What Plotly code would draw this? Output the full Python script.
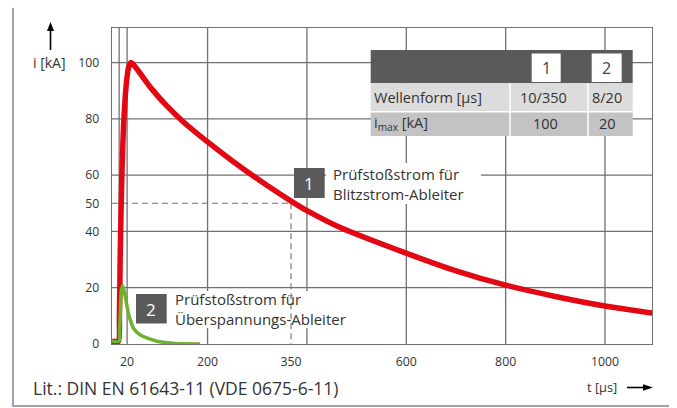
import plotly.graph_objects as go

# ---------------- data ----------------
# time axis units as drawn (schematic, approx µs)
red_t = [7.6, 20.5, 22.5, 24.0, 25.7, 27.8, 31.0, 36.4, 41.0, 45.9, 85, 118, 152, 200,
         252, 320, 368, 401, 467, 601, 700, 800, 900, 1000, 1095]
red_i = [1.0, 1.0, 10, 30, 46, 62, 78, 92.4, 98.3, 100, 91.2, 84.6, 78.8, 71.8,
         64.8, 56.3, 50.8, 47.3, 41.4, 32.2, 26.0, 20.9, 16.9, 13.5, 11]

green_t = [7.6, 21.5, 23.0, 24.3, 26.4, 29.0, 34.4, 41.0, 44.5, 51.1, 64.6, 84.7, 98.2, 115, 135, 185]
green_i = [1.0, 1.0, 5, 11, 19, 20.8, 16.8, 10.5, 8.5, 5.5, 3.2, 1.7, 1.0, 0.5, 0.15, 0.0]

x_tick_pos = [38, 200, 368, 600, 800, 1000]
x_tick_text = ["20", "200", "350", "600", "800", "1000"]
x_grid = [22, 38, 200, 400, 600, 800, 1000]
y_tick_vals = [0, 20, 40, 50, 60, 80, 100]
y_grid = [20, 40, 60, 80, 100]
half_value_t = 368   # position of the "350" mark
half_value_i = 50

table_head = ["1", "2"]
table_rows = ["Wellenform [µs]", "i<sub>max</sub> [kA]"]
table_col1 = ["10/350", "100"]
table_col2 = ["8/20", "20"]

label1_lines = ["Prüfstoßstrom für", "Blitzstrom-Ableiter"]
label2_lines = ["Prüfstoßstrom für", "Überspannungs-Ableiter"]
footer = "Lit.: DIN EN 61643-11 (VDE 0675-6-11)"

# ---------------- layout helpers ----------------
OFF = 8                      # page body margin
W, H = 677 - OFF, 408 - OFF
L, T = 112 - OFF, 28 - OFF
R = W - (652 - OFF)
B = H - (344 - OFF)
PW, PH = W - L - R, H - T - B
def PX(px): return (px - OFF - L) / PW
def PY(py): return (H - B - (py - OFF)) / PH

FONT = "Open Sans"
TXT = "#333333"
GRID = "#707070"
RED = "#e30613"
GREEN = "#6cb22e"
DARK = "#5a5a5a"

fig = go.Figure()
fig.add_trace(go.Scatter(x=red_t, y=red_i, mode="lines",
                         line=dict(color=RED, width=5.5, shape="spline", smoothing=0.6),
                         hoverinfo="skip"))
fig.add_trace(go.Scatter(x=green_t, y=green_i, mode="lines",
                         line=dict(color=GREEN, width=3.5, shape="spline", smoothing=0.6),
                         hoverinfo="skip"))

shapes = []
for yv in y_grid:
    shapes.append(dict(type="line", xref="paper", yref="y", x0=0, x1=1, y0=yv, y1=yv,
                       line=dict(color=GRID, width=1.3), layer="below"))
for xv in x_grid:
    shapes.append(dict(type="line", xref="x", yref="paper", x0=xv, x1=xv, y0=0, y1=1,
                       line=dict(color=GRID, width=1.3), layer="below"))
# dashed helper lines at 50 kA / 350 µs
shapes.append(dict(type="line", xref="paper", yref="y", x0=0, x1=PX(291), y0=half_value_i, y1=half_value_i,
                   line=dict(color=GRID, width=1.1, dash="6px,4px"), layer="below"))
shapes.append(dict(type="line", xref="x", yref="y", x0=half_value_t, x1=half_value_t, y0=half_value_i, y1=0,
                   line=dict(color=GRID, width=1.1, dash="6px,4px"), layer="below"))

def rect(x0, y0, x1, y1, fill, layer="below"):
    shapes.append(dict(type="rect", xref="paper", yref="paper", x0=PX(x0), x1=PX(x1), y0=PY(y1), y1=PY(y0),
                       fillcolor=fill, line=dict(width=0), layer=layer))

# white backgrounds behind the label texts
rect(326, 163, 481, 204, "white")
rect(169, 291, 356, 328, "white")
# label boxes
rect(294, 168, 324.7, 198, DARK)
rect(136, 294, 166.7, 323.5, DARK)
# table
rect(370.7, 50, 632.7, 83.3, DARK)
rect(531.7, 53.5, 560.7, 82, "white")
rect(591.7, 53.5, 621.7, 82, "white")
rect(370.7, 83.3, 632.7, 111.7, "#dcdcdc")
rect(370.7, 111.7, 632.7, 136, "#c3c3c3")
for sx in [510, 588]:
    shapes.append(dict(type="line", xref="paper", yref="paper", x0=PX(sx), x1=PX(sx), y0=PY(83.3), y1=PY(136),
                       line=dict(color="white", width=1.5), layer="below"))
shapes.append(dict(type="line", xref="paper", yref="paper", x0=PX(370.7), x1=PX(632.7), y0=PY(111.7), y1=PY(111.7),
                   line=dict(color="white", width=1.5), layer="below"))
# outer frame
shapes.append(dict(type="rect", xref="paper", yref="paper", x0=PX(13), x1=PX(671.5), y0=PY(406), y1=PY(5),
                   line=dict(color="#9aa5b1", width=2), fillcolor="rgba(0,0,0,0)", layer="below"))
# arrows (axis direction markers)
shapes.append(dict(type="line", xref="paper", yref="paper", x0=PX(50.5), x1=PX(50.5), y0=PY(50), y1=PY(29),
                   line=dict(color="black", width=1.6)))
shapes.append(dict(type="path", xref="paper", yref="paper",
                   path=f"M {PX(50.5)},{PY(22)} L {PX(47)},{PY(31)} L {PX(54)},{PY(31)} Z",
                   fillcolor="black", line=dict(width=0)))
shapes.append(dict(type="line", xref="paper", yref="paper", x0=PX(627), x1=PX(645), y0=PY(387.5), y1=PY(387.5),
                   line=dict(color="black", width=1.6)))
shapes.append(dict(type="path", xref="paper", yref="paper",
                   path=f"M {PX(653)},{PY(387.5)} L {PX(643)},{PY(384.3)} L {PX(643)},{PY(390.7)} Z",
                   fillcolor="black", line=dict(width=0)))

ann = []
def text(px, py, s, size=14, color=TXT, xanchor="left", yanchor="middle", align="left"):
    ann.append(dict(xref="paper", yref="paper", x=PX(px), y=PY(py), text=s, showarrow=False,
                    xanchor=xanchor, yanchor=yanchor, align=align,
                    font=dict(family=FONT, size=size, color=color)))

# table texts
text(546.2, 68, table_head[0], 16, "#444444", "center")
text(606.7, 68, table_head[1], 16, "#444444", "center")
text(372, 97.5, table_rows[0], 14.5)
text(372, 124, table_rows[1], 14.5)
text(543.5, 97.5, table_col1[0], 14.5, xanchor="center")
text(545, 124, table_col1[1], 14.5, xanchor="center")
text(606.5, 97.5, table_col2[0], 14.5, xanchor="center")
text(607, 124, table_col2[1], 14.5, xanchor="center")
# labels
text(309.3, 183.5, "1", 17, "white", "center")
text(151.3, 309, "2", 17, "white", "center")
text(330.5, 184, "<br>".join(label1_lines), 15)
text(173, 309, "<br>".join(label2_lines), 15)
# axis titles and footer
text(49.5, 62, "i [kA]", 14, xanchor="center")
text(619, 387, "t [µs]", 12.8, xanchor="right")
text(31, 388, footer, 17.5)

fig.update_layout(
    width=W, height=H, margin=dict(l=L, r=R, t=T, b=B),
    paper_bgcolor="white", plot_bgcolor="white", showlegend=False,
    font=dict(family=FONT, size=13, color=TXT),
    shapes=shapes, annotations=ann,
    xaxis=dict(range=[7.6, 1094.6], tickvals=x_tick_pos, ticktext=x_tick_text, showgrid=False,
               zeroline=False, showline=True, mirror=True, linecolor=GRID, linewidth=1.3,
               ticks="", ticklabelstandoff=6, tickfont=dict(family=FONT, size=12.3, color=TXT),
               fixedrange=True),
    yaxis=dict(range=[0, 112.3], tickvals=y_tick_vals, showgrid=False,
               zeroline=False, showline=True, mirror=True, linecolor=GRID, linewidth=1.3,
               ticks="", ticklabelstandoff=9, tickfont=dict(family=FONT, size=12.3, color=TXT),
               fixedrange=True),
)

fig.write_html("out.html")
